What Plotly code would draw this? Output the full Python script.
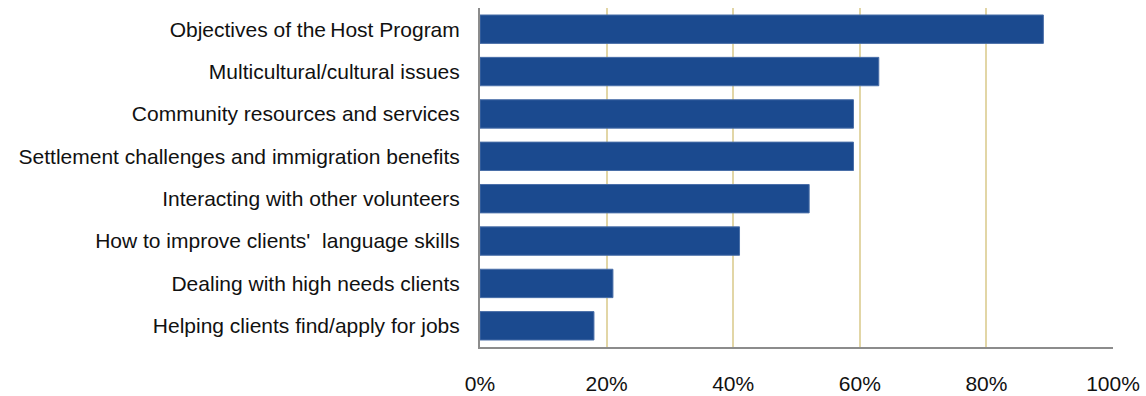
import plotly.graph_objects as go

# Training topics (top to bottom) and share of respondents
topics = [
    "Objectives of the\u2009Host Program",
    "Multicultural/cultural issues",
    "Community resources and services",
    "Settlement challenges and immigration benefits",
    "Interacting with other volunteers",
    "How to improve clients'  language skills",
    "Dealing with high needs clients",
    "Helping clients find/apply for jobs",
]
shares = [0.89, 0.63, 0.59, 0.59, 0.52, 0.41, 0.21, 0.18]
x_ticks = [0, 0.2, 0.4, 0.6, 0.8, 1.0]
x_tick_text = ["0%", "20%", "40%", "60%", "80%", "100%"]

bar_color = "#1B4A8F"
grid_color = "#E2D6A6"
axis_color = "#8C8C8C"
font_family = "Liberation Sans, Arial, sans-serif"
font_size = 21

fig = go.Figure(
    go.Bar(
        x=shares,
        y=topics,
        orientation="h",
        marker=dict(color=bar_color, line=dict(color="#4A6FA8", width=1)),
        hoverinfo="x+y",
    )
)

fig.update_layout(
    width=1146,
    height=396,
    margin=dict(l=480, r=33, t=8, b=49),
    paper_bgcolor="white",
    plot_bgcolor="white",
    bargap=0.33,
    showlegend=False,
    font=dict(family=font_family, size=font_size, color="#111111"),
)

fig.update_xaxes(
    range=[0, 1],
    tickvals=x_ticks,
    ticktext=x_tick_text,
    showgrid=True,
    gridcolor=grid_color,
    gridwidth=2,
    zeroline=False,
    showline=True,
    linecolor=axis_color,
    linewidth=2,
    ticks="",
    ticklabelstandoff=17,
    automargin=False,
    tickfont=dict(family=font_family, size=font_size, color="#111111"),
    fixedrange=True,
)

fig.update_yaxes(
    categoryorder="array",
    categoryarray=topics[::-1],
    showgrid=False,
    zeroline=False,
    showline=True,
    linecolor=axis_color,
    linewidth=2,
    ticks="",
    ticklabelstandoff=14,
    automargin=False,
    tickfont=dict(family=font_family, size=font_size, color="#111111"),
    fixedrange=True,
)

fig.write_html("out.html")
